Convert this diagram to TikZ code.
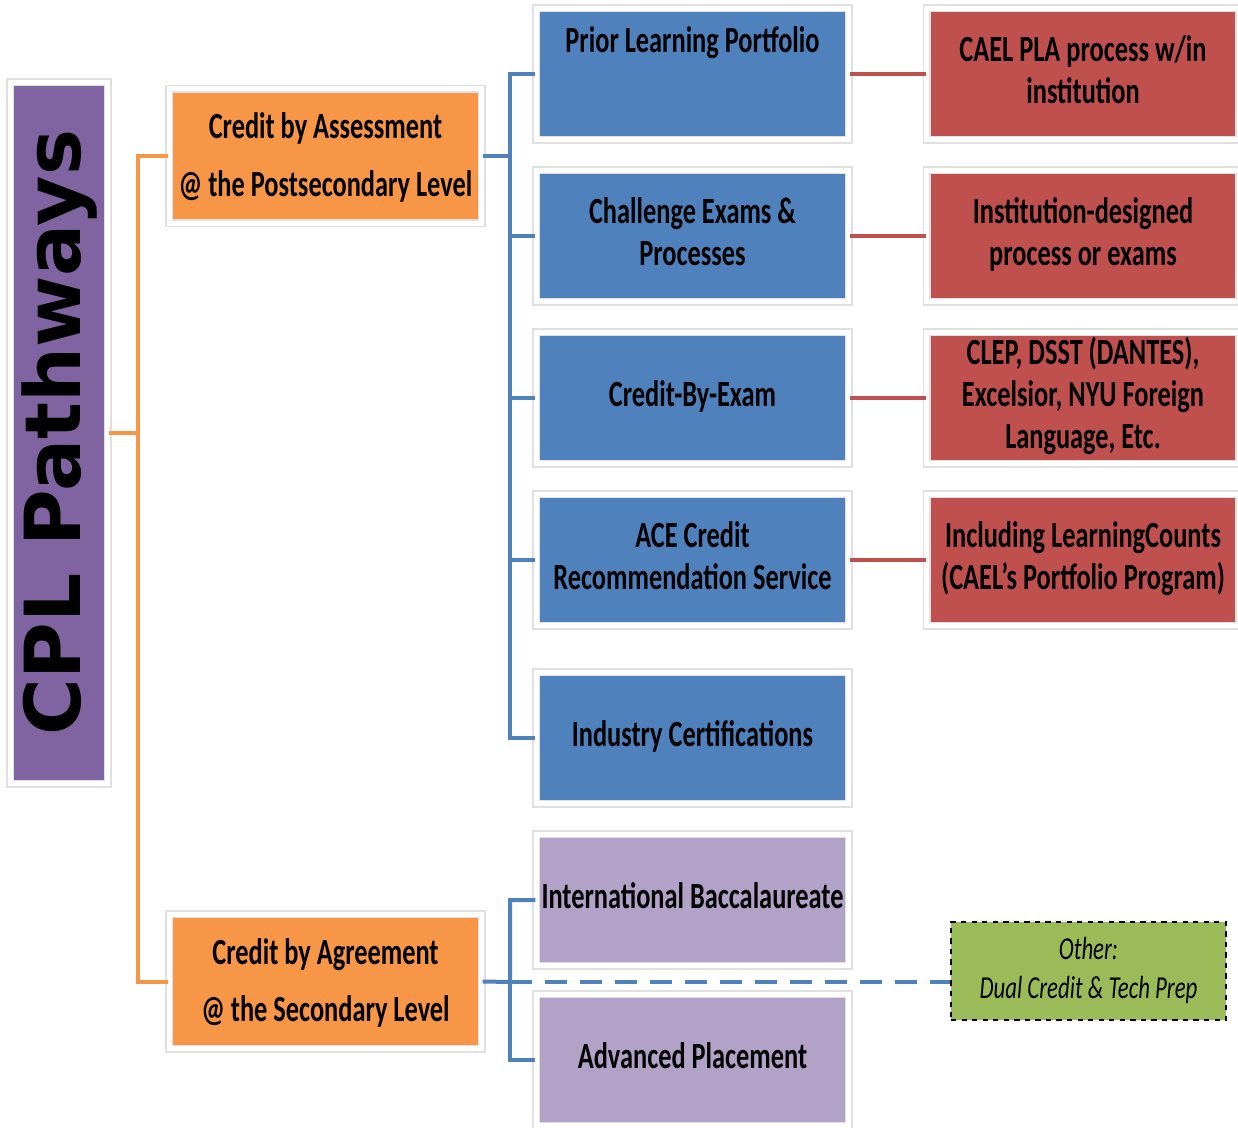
\documentclass[tikz,border=0pt]{standalone}
\usepackage{fontspec}
\setmainfont{Carlito}
\newfontfamily\bigsans{DejaVu Sans}
\usepackage{graphicx}
\usetikzlibrary{shadows}

\definecolor{cplpurple}{HTML}{8064A2}
\definecolor{cplorange}{HTML}{F79646}
\definecolor{cplblue}{HTML}{4F81BD}
\definecolor{cplred}{HTML}{C0504D}
\definecolor{cpllilac}{HTML}{B2A2C7}
\definecolor{cplgreen}{HTML}{9BBB59}

% tall, narrow lettering
\newcommand{\tall}[1]{\scalebox{1}[1.4]{\begin{tabular}{@{}c@{}}#1\end{tabular}}}

\tikzset{
  card/.style={draw=black!12, line width=0.03cm, double=white, double distance=0.1cm,
    inner sep=0pt, minimum width=6.26cm, minimum height=2.64cm,
    drop shadow={shadow xshift=0.06cm, shadow yshift=-0.06cm, fill=black!25, opacity=.6},
    font=\bfseries\fontsize{15}{17}\selectfont},
  pathway/.style={card, fill=cplpurple, minimum width=1.96cm, minimum height=14.04cm},
  level/.style={card, fill=cplorange, minimum height=2.7cm,
    font=\bfseries\fontsize{15}{23.5}\selectfont},
  method/.style={card, fill=cplblue},
  school/.style={card, fill=cpllilac},
  example/.style={card, fill=cplred},
  other/.style={draw=black, dashed, line width=1pt, fill=cplgreen,
    minimum width=5.5cm, minimum height=1.96cm, inner sep=0pt,
    font=\itshape\fontsize{13}{15.7}\selectfont},
  orange link/.style={draw=cplorange, line width=0.08cm},
  blue link/.style={draw=cplblue, line width=0.08cm},
  red link/.style={draw=cplred, line width=0.08cm}
}

\begin{document}
\begin{tikzpicture}[x=0.02cm, y=-0.02cm]
  \useasboundingbox (0,0) rectangle (1238,1128);

  \node[pathway] (cpl) at (59,433)
    {\rotatebox{90}{\bigsans\bfseries\fontsize{44}{44}\selectfont CPL Pathways}};

  \node[level] (asm) at (325.5,156) {\tall{Credit by Assessment\\@ the Postsecondary Level}};
  \node[level] (agr) at (325.5,981.5) {\tall{Credit by Agreement\\@ the Secondary Level}};

  \node[method] (plp) at (692.5,74) {\tall{Prior Learning Portfolio\\[0.86cm]}};
  \node[method] (cep) at (692.5,236) {\tall{Challenge Exams \&\\Processes}};
  \node[method] (cbe) at (692.5,398) {\tall{Credit-By-Exam}};
  \node[method] (ace) at (692.5,560) {\tall{ACE Credit\\Recommendation Service}};
  \node[method] (ind) at (692.5,738) {\tall{Industry Certifications}};

  \node[school] (ibac) at (692.5,900) {\tall{International Baccalaureate}};
  \node[school] (advp) at (692.5,1060) {\tall{Advanced Placement}};

  \node[example] (cael) at (1083,74) {\tall{CAEL PLA process w/in\\institution}};
  \node[example] (inst) at (1083,236) {\tall{Institution-designed\\process or exams}};
  \node[example] (clep) at (1083,398) {\tall{CLEP, DSST (DANTES),\\Excelsior, NYU Foreign\\Language, Etc.}};
  \node[example] (lcnt) at (1083,560) {\tall{Including LearningCounts\\(CAEL's Portfolio Program)}};

  \node[other] (dual) at (1088.5,971) {\tall{Other:\\Dual Credit \& Tech Prep}};

  % connectors
  \coordinate (ojoin) at (138,433);
  \draw[orange link] (cpl.east) -- (ojoin) |- (asm.west);
  \draw[orange link] (ojoin) |- (agr.west);

  \coordinate (bjoin) at (510,156);
  \draw[blue link] (asm.east) -- (bjoin);
  \foreach \m in {plp,cep,cbe,ace,ind}
    \draw[blue link] (bjoin) |- (\m.west);

  \coordinate (ljoin) at (510,982);
  \draw[blue link] (agr.east) -- (ljoin) |- (ibac.west);
  \draw[blue link] (ljoin) |- (advp.west);
  \draw[blue link, dash pattern=on 0.44cm off 0.26cm]
    (ljoin) -- (dual.west |- ljoin);

  \draw[red link] (plp.east) -- (cael.west);
  \draw[red link] (cep.east) -- (inst.west);
  \draw[red link] (cbe.east) -- (clep.west);
  \draw[red link] (ace.east) -- (lcnt.west);
\end{tikzpicture}
\end{document}
